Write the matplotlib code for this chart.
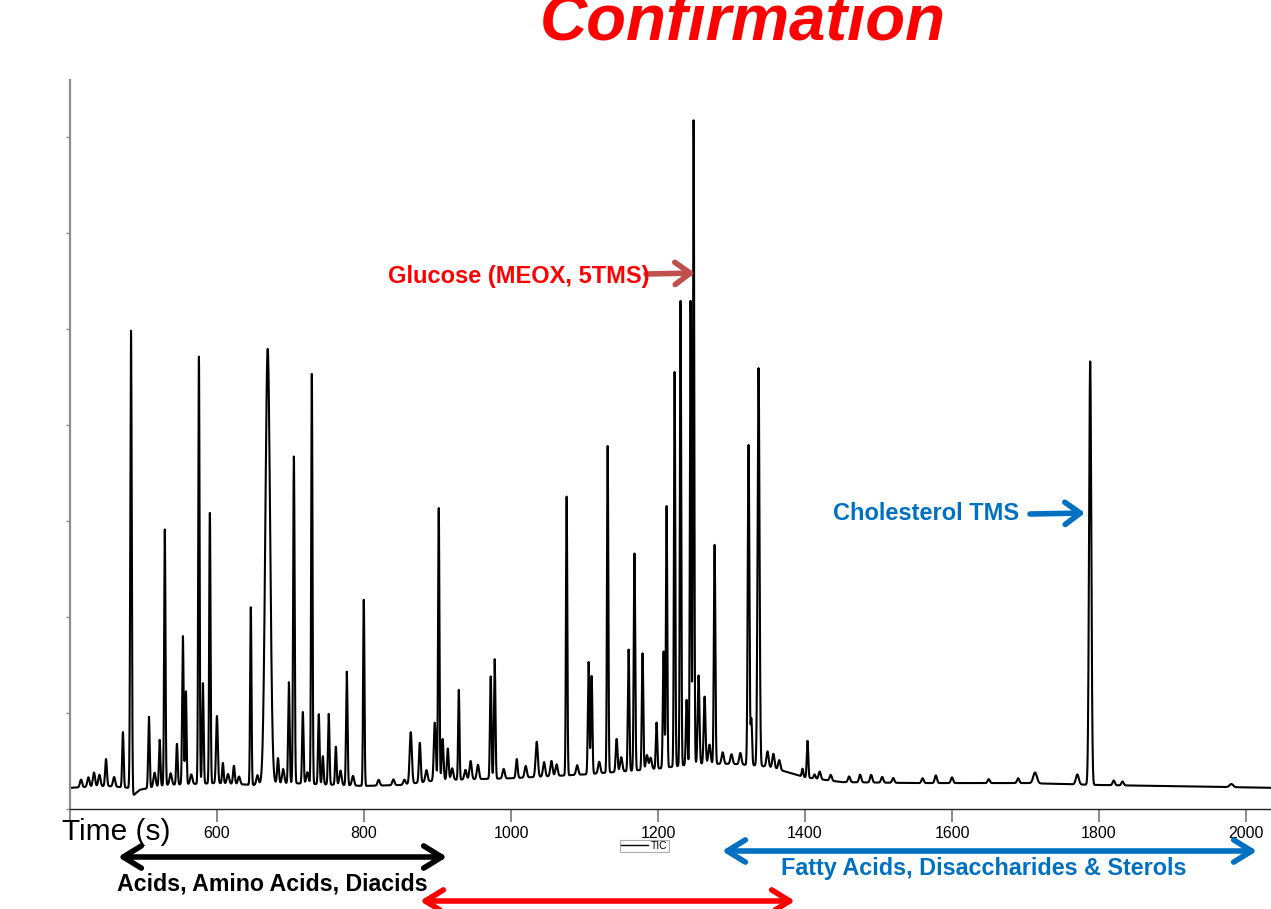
import numpy as np
import matplotlib
matplotlib.use("Agg")
import matplotlib.pyplot as plt
from matplotlib.patches import FancyArrowPatch

# ---------------- data ----------------
# major peaks: retention time (s), apex height (axis units), width (sigma, s)
peak_rt = [432.6, 449, 472, 483, 507.4, 522, 529, 545.5, 553.6, 557.7, 575.4, 580.8,
           590.3, 599.9, 608, 623, 646, 669, 683, 697.8, 704.6, 716.8, 729, 738.5,
           744, 752, 761.7, 776.6, 799.7, 863.6, 875.9, 896.3, 901.7, 907, 914, 929,
           945, 972.4, 977.8, 1007.8, 1035, 1055, 1075.7, 1105.6, 1109.7, 1131.5,
           1143.7, 1160, 1168, 1179, 1198, 1207.6, 1211.7, 1222.6, 1230.7, 1238.9,
           1244.3, 1248.4, 1255.2, 1263.4, 1277, 1323.2, 1327, 1336.8, 1349, 1396.6,
           1403.4, 1413, 1713, 1770.5, 1788, 1980]
peak_apex = [0.38, 0.52, 0.80, 4.98, 0.96, 0.72, 2.91, 0.68, 1.80, 1.23, 4.71, 1.31,
             3.10, 0.97, 0.48, 0.45, 2.10, 4.79, 0.53, 1.32, 3.67, 1.01, 4.53, 0.99,
             0.55, 0.99, 0.65, 1.43, 2.19, 0.80, 0.69, 0.90, 3.15, 0.73, 0.63, 1.24,
             0.50, 1.38, 1.56, 0.52, 0.70, 0.50, 3.27, 1.53, 1.39, 3.80,
             0.73, 1.66, 2.66, 1.62, 0.90, 1.64, 3.17, 4.55, 5.32, 1.14,
             5.32, 7.17, 1.39, 1.17, 2.75, 3.79, 0.94, 4.59, 0.60, 0.42,
             0.71, 0.36, 0.38, 0.36, 4.66, 0.26]
peak_sigma = [1.5, 1.2, 1.0, 1.0, 1.0, 1.0, 0.9, 1.0, 1.0, 0.9, 0.9, 1.0,
              0.9, 1.2, 1.0, 1.2, 0.9, 3.2, 1.2, 1.0, 1.0, 1.0, 0.9, 1.0,
              1.0, 1.0, 1.0, 1.0, 0.9, 1.5, 1.2, 1.3, 0.9, 1.2, 1.2, 0.9,
              1.5, 1.0, 1.0, 1.2, 1.5, 1.5, 0.9, 1.0, 1.0, 0.9,
              1.2, 1.0, 1.0, 1.0, 1.0, 1.0, 0.9, 0.9, 0.9, 1.0,
              0.9, 0.9, 1.2, 1.2, 1.0, 1.1, 1.0, 1.3, 1.5, 1.0,
              1.0, 1.2, 2.5, 2.0, 1.5, 2.5]

# minor bumps: retention time (s), height above baseline (axis units)
minor_rt = [415, 425, 440, 460, 515, 537, 565, 615, 630, 655, 690, 723, 768, 785,
            820, 840, 855, 885, 920, 938, 955, 990, 1020, 1045, 1062, 1090, 1120,
            1150, 1185, 1190, 1270, 1288, 1300, 1312, 1357, 1365, 1420, 1435, 1460,
            1475, 1490, 1505, 1520, 1560, 1578, 1600, 1650, 1690, 1820, 1832]
minor_h = [0.08, 0.10, 0.12, 0.10, 0.15, 0.12, 0.10, 0.10, 0.08, 0.10, 0.15, 0.12,
           0.15, 0.10, 0.06, 0.06, 0.05, 0.12, 0.12, 0.10, 0.15, 0.10, 0.12, 0.15,
           0.12, 0.10, 0.12, 0.15, 0.15, 0.12, 0.20, 0.12, 0.10, 0.12, 0.15, 0.10,
           0.08, 0.06, 0.06, 0.08, 0.08, 0.06, 0.05, 0.05, 0.08, 0.06, 0.04, 0.05,
           0.05, 0.04]

# baseline level (axis units) at selected times
base_t = [400, 450, 480, 486, 495, 530, 600, 650, 700, 800, 850, 900, 1000, 1100,
          1200, 1250, 1300, 1340, 1360, 1400, 1450, 1550, 1700, 1800, 2040]
base_v = [0.22, 0.24, 0.22, 0.14, 0.20, 0.25, 0.27, 0.25, 0.27, 0.24, 0.25, 0.30,
          0.32, 0.36, 0.42, 0.47, 0.47, 0.45, 0.42, 0.33, 0.28, 0.27, 0.27, 0.25,
          0.22]

xtick_vals = [400, 600, 800, 1000, 1200, 1400, 1600, 1800, 2000]
xtick_labels = ["", "600", "800", "1000", "1200", "1400", "1600", "1800", "2000"]

# ---------------- build trace ----------------
t = np.arange(400, 2040, 0.2)
baseline = np.interp(t, base_t, base_v)
signal = baseline.copy()
for rt, apex, sg in zip(peak_rt, peak_apex, peak_sigma):
    amp = apex - np.interp(rt, base_t, base_v)
    signal += amp * np.exp(-0.5 * ((t - rt) / sg) ** 2)
for rt, h in zip(minor_rt, minor_h):
    signal += h * np.exp(-0.5 * ((t - rt) / 1.5) ** 2)

# ---------------- figure ----------------
W, H = 1271, 909
fig = plt.figure(figsize=(W / 100, H / 100), dpi=100)
fig.patch.set_facecolor("white")

def fx(px):
    return px / W

def fy(py):
    return 1 - py / H

ax = fig.add_axes([fx(70), fy(809), 1 - fx(70), fy(80) - fy(809)])
line, = ax.plot(t, signal, color="black", lw=1.5, label="TIC")
ax.set_xlim(400, 2034)
ax.set_ylim(0, 7.59)

for s in ["top", "right"]:
    ax.spines[s].set_visible(False)
ax.spines["left"].set_color("#8c8c8c")
ax.spines["left"].set_linewidth(1.6)
ax.spines["bottom"].set_color("#222222")
ax.spines["bottom"].set_linewidth(1.0)

ax.set_yticks(range(0, 8))
ax.set_yticklabels([])
ax.tick_params(axis="y", direction="out", length=3, width=1, color="#8c8c8c")
ax.set_xticks(xtick_vals)
ax.set_xticklabels(xtick_labels, fontsize=11.5, family="Liberation Sans")
ax.tick_params(axis="x", direction="out", length=9, width=1.2, color="#777777",
               pad=3)

leg = fig.legend(handles=[line], labels=["TIC"], loc="upper left",
                 bbox_to_anchor=(fx(620), fy(840)), bbox_transform=fig.transFigure,
                 frameon=True, fancybox=False, handlelength=2.6,
                 handletextpad=0.3, borderpad=0.1, borderaxespad=0,
                 prop={"family": "Liberation Sans", "size": 7.5})
leg.get_frame().set_edgecolor("#999999")
leg.get_frame().set_linewidth(0.8)
for l in leg.get_lines():
    l.set_linewidth(1.0)

# title
fig.text(fx(743), fy(40), "Confirmation", color="#FF0000", fontsize=47,
         fontweight="bold", fontstyle="italic", ha="center", va="baseline",
         family=["Liberation Sans", "DejaVu Sans"])

bold = dict(fontweight="bold", family=["Liberation Sans", "DejaVu Sans"])

fig.text(fx(62), fy(832), "Time (s)", fontsize=21.5, ha="left", va="center",
         family=["Liberation Sans", "DejaVu Sans"])

fig.text(fx(388), fy(277), "Glucose (MEOX, 5TMS)", color="#FF0000", fontsize=17,
         ha="left", va="center", **bold)
fig.text(fx(833), fy(513), "Cholesterol TMS", color="#0070C0", fontsize=17,
         ha="left", va="center", **bold)
fig.text(fx(117), fy(884), "Acids, Amino Acids, Diacids", color="black",
         fontsize=16.7, ha="left", va="center", **bold)
fig.text(fx(781), fy(868), "Fatty Acids, Disaccharides & Sterols", color="#0070C0",
         fontsize=16.8, ha="left", va="center", **bold)

def arrow(x0, y0, x1, y1, style, color, lw, hl, hw):
    a = FancyArrowPatch((fx(x0), fy(y0)), (fx(x1), fy(y1)),
                        transform=fig.transFigure,
                        arrowstyle=f"{style},head_length={hl},head_width={hw}",
                        color=color, lw=lw, mutation_scale=1,
                        shrinkA=0, shrinkB=0, capstyle="round", joinstyle="round")
    fig.add_artist(a)

arrow(646, 274, 695, 273, "->", "#C0504D", 4.0, 11, 8)
arrow(1030, 514, 1085, 513, "->", "#0070C0", 4.0, 11, 8)
arrow(118, 857, 447, 857, "<->", "black", 4.0, 13, 8)
arrow(420, 901, 795, 901, "<->", "#FF0000", 4.0, 13, 8)
arrow(722, 851, 1257, 851, "<->", "#0070C0", 4.0, 13, 8)

fig.savefig("out.png", dpi=100, facecolor="white")
